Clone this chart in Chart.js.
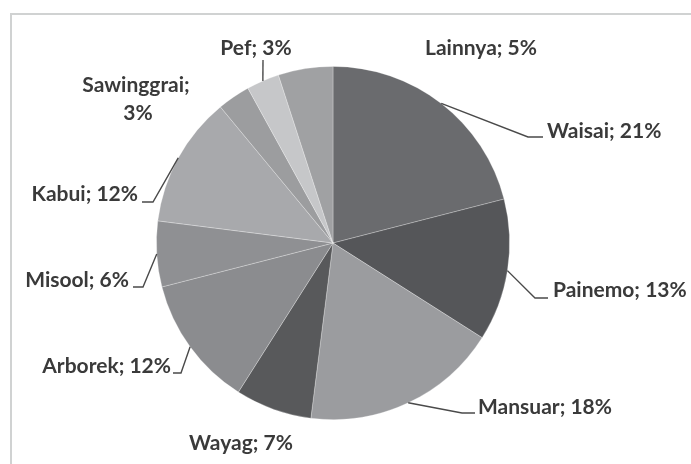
<!DOCTYPE html>
<html>
<head>
<meta charset="utf-8">
<script src="https://cdn.jsdelivr.net/npm/chart.js@4.4.1/dist/chart.umd.min.js"></script>
<style>
  html, body { margin: 0; padding: 0; background: #ffffff; }
  #wrap { width: 691px; height: 464px; position: relative; }
</style>
</head>
<body>
<div id="wrap"><canvas id="c" width="691" height="464"></canvas></div>
<script>
// ---- Data ----
const categories = ['Waisai', 'Painemo', 'Mansuar', 'Wayag', 'Arborek', 'Misool', 'Kabui', 'Sawinggrai', 'Pef', 'Lainnya'];
const values = [21, 13, 18, 7, 12, 6, 12, 3, 3, 5];
const sliceColors = ['#6a6b6e', '#555659', '#9b9c9f', '#58595b', '#8b8c8f', '#8f9093', '#a8a9ac', '#9c9d9f', '#c6c7c9', '#a0a1a3'];

// ---- Label layout (offsets from pie centre, px) ----
// tx, ty: text anchor (ty = baseline of first line); align; leader: elbow points
const labelLayout = [
  { tx: 214, ty: -105, align: 'left', leader: [[195, -106], [210, -106]] },
  { tx: 220, ty: 54, align: 'left', leader: [[202, 55], [215, 55]] },
  { tx: 145, ty: 171, align: 'left', leader: [[129, 170], [142, 170]] },
  { tx: -92, ty: 207, align: 'center', leader: null },
  { tx: -162, ty: 130, align: 'right', leader: [[-152, 130], [-160, 130]] },
  { tx: -204, ty: 44, align: 'right', leader: [[-190, 44], [-200, 44]] },
  { tx: -195, ty: -42, align: 'right', leader: [[-180, -41], [-191, -41]] },
  { tx: -197, ty: -151, align: 'center', leader: null, split: true, lineGap: 28 },
  { tx: -77, ty: -188, align: 'center', leader: [[-70, -183]] },
  { tx: 148, ty: -188, align: 'center', leader: null }
];

const framePlugin = {
  id: 'frame',
  beforeDraw(chart) {
    const ctx = chart.ctx;
    ctx.save();
    ctx.fillStyle = '#ffffff';
    ctx.fillRect(0, 0, chart.width, chart.height);
    ctx.strokeStyle = '#d0d2d2';
    ctx.lineWidth = 2;
    ctx.beginPath();
    ctx.moveTo(11, chart.height);
    ctx.lineTo(11, 14);
    ctx.lineTo(chart.width, 14);
    ctx.stroke();
    ctx.restore();
  }
};

const labelPlugin = {
  id: 'pieLabels',
  afterDatasetsDraw(chart) {
    const ctx = chart.ctx;
    const meta = chart.getDatasetMeta(0);
    ctx.save();
    ctx.font = 'bold 21px Lato, "Open Sans", sans-serif';
    ctx.fillStyle = '#3a3a3a';
    ctx.strokeStyle = '#4a4a4a';
    ctx.lineWidth = 1.4;
    meta.data.forEach((arc, i) => {
      const p = arc.getProps(['x', 'y', 'startAngle', 'endAngle', 'outerRadius'], true);
      const cx = p.x, cy = p.y;
      const L = labelLayout[i];
      if (L.leader) {
        const mid = (p.startAngle + p.endAngle) / 2;
        ctx.beginPath();
        ctx.moveTo(cx + p.outerRadius * Math.cos(mid), cy + p.outerRadius * Math.sin(mid));
        L.leader.forEach(pt => ctx.lineTo(cx + pt[0], cy + pt[1]));
        ctx.stroke();
      }
      ctx.textAlign = L.align;
      ctx.textBaseline = 'alphabetic';
      const txt = categories[i] + '; ' + values[i] + '%';
      if (L.split) {
        ctx.fillText(categories[i] + ';', cx + L.tx, cy + L.ty);
        ctx.fillText(values[i] + '%', cx + L.tx + 2, cy + L.ty + L.lineGap);
      } else {
        ctx.fillText(txt, cx + L.tx, cy + L.ty);
      }
    });
    ctx.restore();
  }
};

new Chart(document.getElementById('c'), {
  type: 'pie',
  data: {
    labels: categories,
    datasets: [{
      data: values,
      backgroundColor: sliceColors,
      borderColor: 'rgba(255,255,255,0.35)',
      borderWidth: 0.8
    }]
  },
  options: {
    responsive: false,
    animation: false,
    layout: { padding: { top: 66, bottom: 44, left: 156, right: 181 } },
    plugins: {
      legend: { display: false },
      tooltip: { enabled: false },
      title: { display: false }
    }
  },
  plugins: [framePlugin, labelPlugin]
});
</script>
</body>
</html>
